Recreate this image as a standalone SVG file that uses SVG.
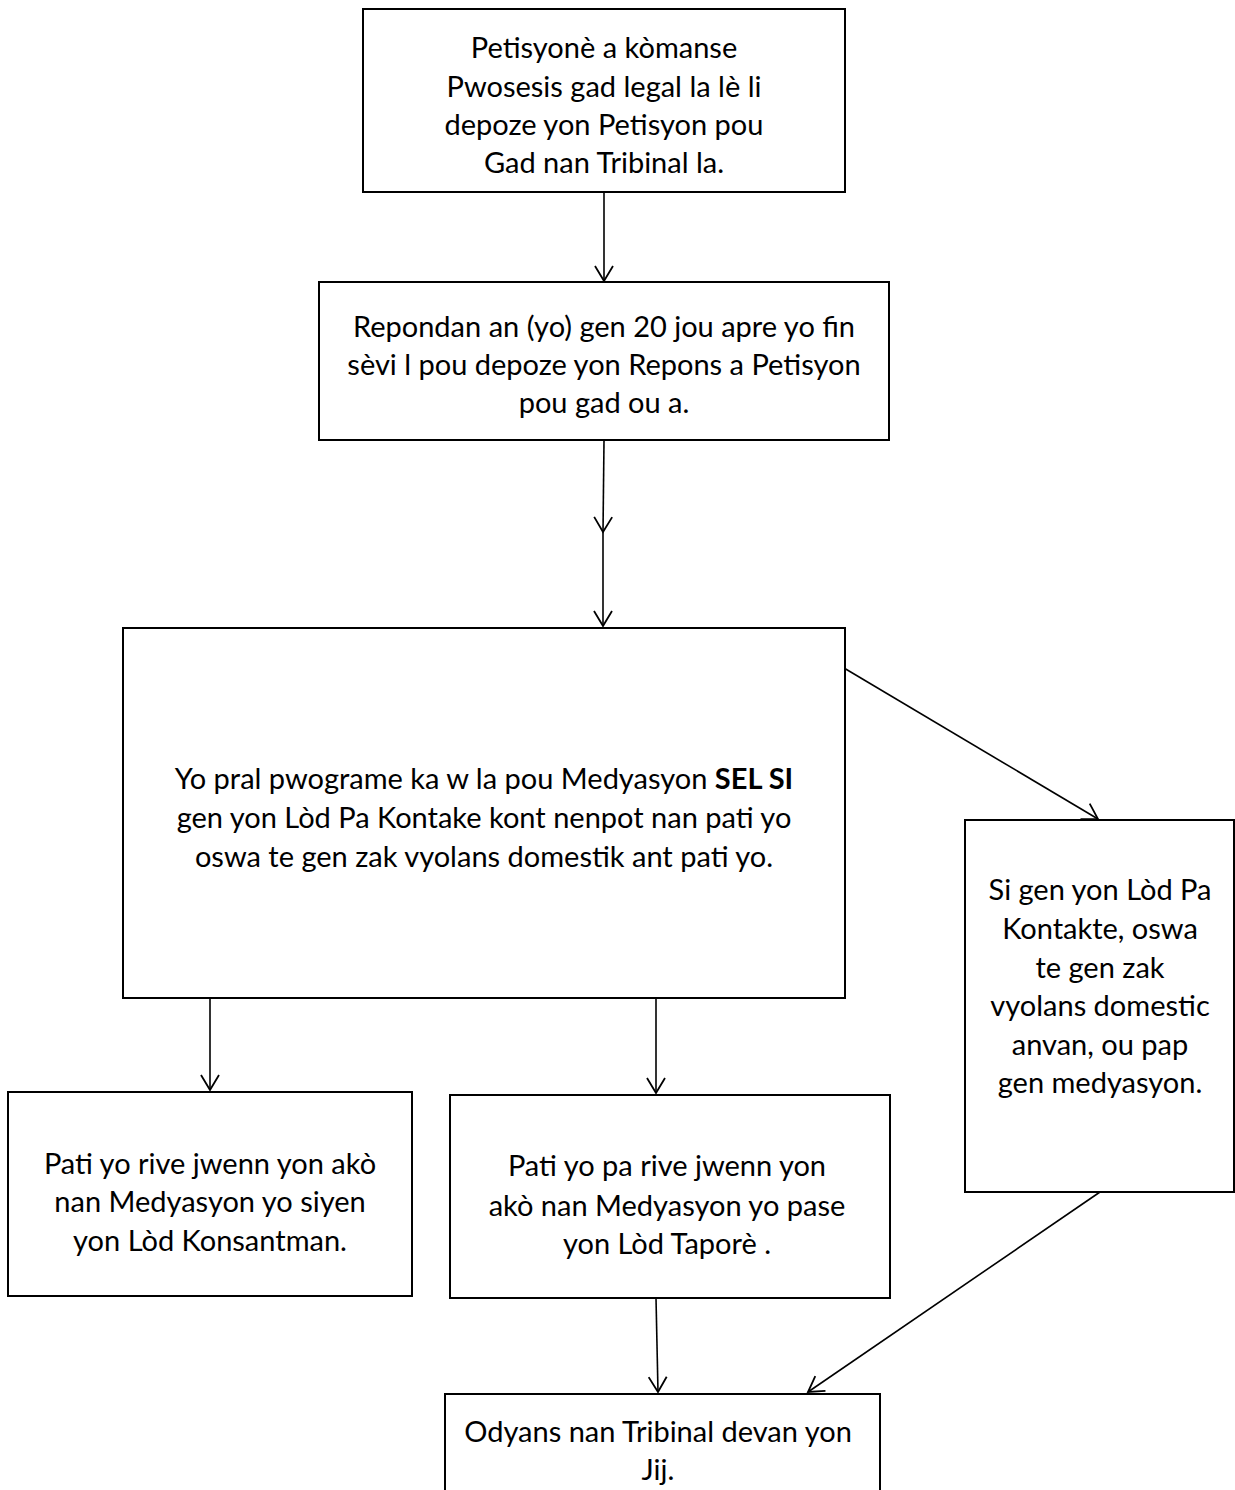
<svg xmlns="http://www.w3.org/2000/svg" width="1235" height="1490" viewBox="0 0 1235 1490">
<style>
.box{fill:#fff;stroke:#000;stroke-width:2}
.t{font-family:Lato,"Liberation Sans",sans-serif;font-size:29px;fill:#000;text-anchor:middle}
.c{stroke:#000;stroke-width:1.6;fill:none}
</style>
<defs>
<marker id="ah" markerWidth="20" markerHeight="20" refX="16" refY="10" orient="auto" markerUnits="userSpaceOnUse">
<path d="M1,1 L16,10 L1,19" fill="none" stroke="#000" stroke-width="1.8"/>
</marker>
</defs>
<rect width="1235" height="1490" fill="#fff"/>
<g id="connectors">
<line class="c" x1="604" y1="192" x2="604" y2="281" marker-end="url(#ah)"/>
<line class="c" x1="604" y1="441" x2="603" y2="532" marker-end="url(#ah)"/>
<line class="c" x1="603" y1="532" x2="603" y2="626" marker-end="url(#ah)"/>
<line class="c" x1="844" y1="668" x2="1098" y2="819" marker-end="url(#ah)"/>
<line class="c" x1="210" y1="996" x2="210" y2="1090" marker-end="url(#ah)"/>
<line class="c" x1="656" y1="998" x2="656" y2="1093" marker-end="url(#ah)"/>
<line class="c" x1="656" y1="1298" x2="658" y2="1392" marker-end="url(#ah)"/>
<line class="c" x1="1100" y1="1192" x2="808" y2="1392" marker-end="url(#ah)"/>
</g>
<g id="n1">
<rect class="box" x="363" y="9" width="482" height="183"/>
<text class="t" x="604" y="58">Petisyonè a kòmanse</text>
<text class="t" x="604" y="97">Pwosesis gad legal la lè li</text>
<text class="t" x="604" y="135">depoze yon Petisyon pou</text>
<text class="t" x="604" y="173">Gad nan Tribinal la.</text>
</g>
<g id="n2">
<rect class="box" x="319" y="282" width="570" height="158"/>
<text class="t" x="604" y="337">Repondan an (yo) gen 20 jou apre yo fin</text>
<text class="t" x="604" y="375">sèvi l pou depoze yon Repons a Petisyon</text>
<text class="t" x="604" y="413">pou gad ou a.</text>
</g>
<g id="n3">
<rect class="box" x="123" y="628" width="722" height="370"/>
<text class="t" x="484" y="789">Yo pral pwograme ka w la pou Medyasyon <tspan font-weight="bold">SEL SI</tspan></text>
<text class="t" x="484" y="828">gen yon Lòd Pa Kontake kont nenpot nan pati yo</text>
<text class="t" x="484" y="867">oswa te gen zak vyolans domestik ant pati yo.</text>
</g>
<g id="n4">
<rect class="box" x="965" y="820" width="269" height="372"/>
<text class="t" x="1100" y="900">Si gen yon Lòd Pa</text>
<text class="t" x="1100" y="939">Kontakte, oswa</text>
<text class="t" x="1100" y="978">te gen zak</text>
<text class="t" x="1100" y="1016">vyolans domestic</text>
<text class="t" x="1100" y="1055">anvan, ou pap</text>
<text class="t" x="1100" y="1093">gen medyasyon.</text>
</g>
<g id="n5">
<rect class="box" x="8" y="1092" width="404" height="204"/>
<text class="t" x="210" y="1174">Pati yo rive jwenn yon akò</text>
<text class="t" x="210" y="1212">nan Medyasyon yo siyen</text>
<text class="t" x="210" y="1251">yon Lòd Konsantman.</text>
</g>
<g id="n6">
<rect class="box" x="450" y="1095" width="440" height="203"/>
<text class="t" x="667" y="1176">Pati yo pa rive jwenn yon</text>
<text class="t" x="667" y="1216">akò nan Medyasyon yo pase</text>
<text class="t" x="667" y="1254">yon Lòd Taporè .</text>
</g>
<g id="n7">
<rect class="box" x="445" y="1394" width="435" height="110"/>
<text class="t" x="658" y="1442">Odyans nan Tribinal devan yon</text>
<text class="t" x="658" y="1480">Jij.</text>
</g>
</svg>
